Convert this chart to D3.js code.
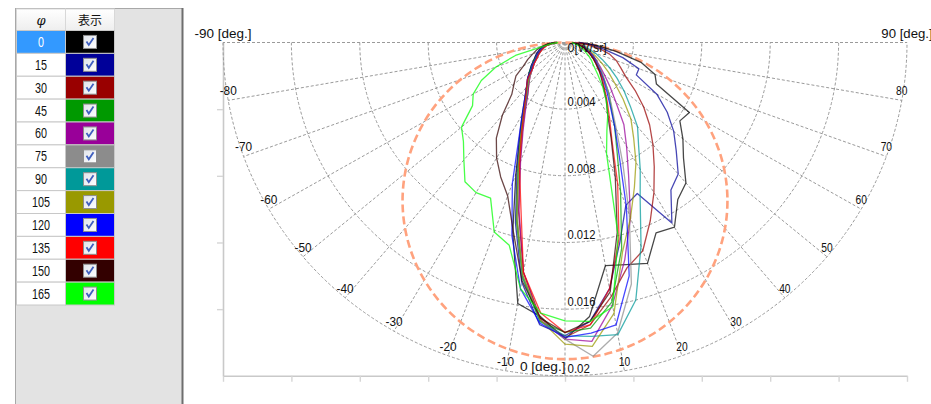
<!DOCTYPE html>
<html>
<head>
<meta charset="utf-8">
<script src="https://cdn.jsdelivr.net/npm/d3@7"></script>
<style>
  html, body { margin: 0; padding: 0; background: #fff; }
  svg { display: block; }
</style>
</head>
<body>
<svg id="chart" width="931" height="404"></svg>
<script>
// ---- data -------------------------------------------------------------
// polar angle of each sample [deg]
const thetaDeg = [-90,-85,-80,-75,-70,-65,-60,-55,-50,-45,-40,-35,-30,-25,-20,-15,-10,-5,
                  0,5,10,15,20,25,30,35,40,45,50,55,60,65,70,75,80,85,90];

// azimuth of each measured plane [deg]
const phiLabels = ["0","15","30","45","60","75","90","105","120","135","150","165"];
const phiColors = ["#000000","#000099","#990000","#009900","#990099","#8c8c8c",
                   "#009999","#999900","#0000ff","#ff0000","#330000","#00ff00"];

// radiant intensity [W/sr] per plane, one value per thetaDeg entry
const intensityPhi0   = [0.0006,0.0010,0.0013,0.0015,0.0017,0.0019,0.0021,0.0024,0.0027,0.0031,0.0035,0.0041,0.0050,0.0063,0.0084,0.0118,0.0159,0.0165,
                         0.0178,
                         0.0165,0.0136,0.0138,0.0141,0.0126,0.0128,0.0115,0.0110,0.0098,0.0090,0.0082,0.0084,0.0059,0.0056,0.0046,0.0030,0.0018,0.0008];
const intensityPhi15  = [0.0005,0.0009,0.0012,0.0015,0.0017,0.0019,0.0021,0.0024,0.0027,0.0031,0.0034,0.0040,0.0049,0.0062,0.0082,0.0112,0.0146,0.0170,
                         0.0176,
                         0.0168,0.0150,0.0124,0.0104,0.0100,0.0125,0.0108,0.0103,0.0092,0.0083,0.0073,0.0062,0.0046,0.0046,0.0035,0.0023,0.0016,0.0008];
const intensityPhi30  = [0.0005,0.0008,0.0011,0.0013,0.0015,0.0017,0.0019,0.0022,0.0025,0.0029,0.0033,0.0038,0.0047,0.0059,0.0077,0.0105,0.0140,0.0166,
                         0.0177,
                         0.0170,0.0155,0.0140,0.0133,0.0118,0.0104,0.0091,0.0080,0.0070,0.0060,0.0050,0.0041,0.0036,0.0032,0.0027,0.0020,0.0013,0.0006];
const intensityPhi45  = [0.0005,0.0009,0.0012,0.0014,0.0016,0.0018,0.0021,0.0023,0.0027,0.0030,0.0035,0.0040,0.0049,0.0061,0.0080,0.0110,0.0143,0.0168,
                         0.0174,
                         0.0172,0.0158,0.0128,0.0095,0.0072,0.0058,0.0047,0.0040,0.0033,0.0028,0.0024,0.0021,0.0018,0.0015,0.0012,0.0010,0.0007,0.0005];
const intensityPhi60  = [0.0005,0.0009,0.0012,0.0014,0.0016,0.0018,0.0020,0.0022,0.0025,0.0029,0.0033,0.0038,0.0046,0.0058,0.0076,0.0104,0.0140,0.0167,
                         0.0178,
                         0.0180,0.0160,0.0135,0.0112,0.0088,0.0072,0.0060,0.0046,0.0037,0.0030,0.0025,0.0021,0.0018,0.0015,0.0012,0.0009,0.0007,0.0005];
const intensityPhi75  = [0.0005,0.0008,0.0011,0.0013,0.0015,0.0017,0.0019,0.0022,0.0025,0.0029,0.0034,0.0039,0.0048,0.0060,0.0079,0.0108,0.0142,0.0167,
                         0.0178,
                         0.0189,0.0177,0.0150,0.0110,0.0080,0.0060,0.0048,0.0040,0.0033,0.0028,0.0024,0.0020,0.0017,0.0014,0.0012,0.0009,0.0007,0.0005];
const intensityPhi90  = [0.0005,0.0009,0.0012,0.0014,0.0016,0.0018,0.0020,0.0023,0.0026,0.0030,0.0034,0.0039,0.0048,0.0061,0.0080,0.0109,0.0143,0.0168,
                         0.0176,
                         0.0177,0.0178,0.0160,0.0130,0.0104,0.0088,0.0075,0.0066,0.0054,0.0045,0.0037,0.0030,0.0024,0.0019,0.0014,0.0010,0.0007,0.0005];
const intensityPhi105 = [0.0005,0.0009,0.0012,0.0014,0.0016,0.0018,0.0020,0.0023,0.0026,0.0030,0.0034,0.0040,0.0049,0.0061,0.0080,0.0109,0.0142,0.0167,
                         0.0181,
                         0.0183,0.0165,0.0130,0.0112,0.0096,0.0083,0.0070,0.0060,0.0048,0.0038,0.0031,0.0025,0.0020,0.0016,0.0013,0.0010,0.0007,0.0005];
const intensityPhi120 = [0.0005,0.0009,0.0012,0.0014,0.0016,0.0018,0.0020,0.0023,0.0026,0.0031,0.0035,0.0041,0.0050,0.0064,0.0090,0.0120,0.0150,0.0169,
                         0.0177,
                         0.0175,0.0172,0.0145,0.0105,0.0075,0.0058,0.0046,0.0038,0.0032,0.0027,0.0023,0.0020,0.0017,0.0014,0.0012,0.0009,0.0007,0.0005];
const intensityPhi135 = [0.0005,0.0008,0.0011,0.0013,0.0015,0.0017,0.0019,0.0022,0.0025,0.0031,0.0035,0.0040,0.0048,0.0060,0.0078,0.0100,0.0140,0.0163,
                         0.0174,
                         0.0170,0.0150,0.0122,0.0090,0.0065,0.0052,0.0043,0.0036,0.0031,0.0026,0.0022,0.0019,0.0016,0.0013,0.0011,0.0009,0.0007,0.0005];
const intensityPhi150 = [0.0006,0.0010,0.0014,0.0017,0.0020,0.0024,0.0028,0.0035,0.0039,0.0044,0.0057,0.0070,0.0080,0.0089,0.0098,0.0117,0.0145,0.0166,
                         0.0174,
                         0.0168,0.0152,0.0118,0.0086,0.0064,0.0050,0.0042,0.0035,0.0030,0.0026,0.0022,0.0019,0.0016,0.0013,0.0011,0.0008,0.0006,0.0004];
const intensityPhi165 = [0.0004,0.0008,0.0013,0.0030,0.0043,0.0054,0.0062,0.0066,0.0079,0.0084,0.0092,0.0102,0.0104,0.0103,0.0121,0.0126,0.0150,0.0163,
                         0.0167,
                         0.0168,0.0161,0.0120,0.0071,0.0058,0.0050,0.0042,0.0034,0.0027,0.0022,0.0019,0.0016,0.0013,0.0011,0.0009,0.0007,0.0005,0.0004];

// peak of the Lambertian reference distribution [W/sr]
const lambertPeak = 0.019;

// axis ticks
const radialTicks  = [0, 0.004, 0.008, 0.012, 0.016, 0.02];
const radialLabels = ["0[W/sr]", "0.004", "0.008", "0.012", "0.016", "0.02"];
const angleTicks   = [-90,-80,-70,-60,-50,-40,-30,-20,-10,0,10,20,30,40,50,60,70,80,90];
const angleLabels  = ["-90 [deg.]","-80","-70","-60","-50","-40","-30","-20","-10","0 [deg.]",
                      "10","20","30","40","50","60","70","80","90 [deg.]"];

const seriesValues = [intensityPhi0, intensityPhi15, intensityPhi30, intensityPhi45,
                      intensityPhi60, intensityPhi75, intensityPhi90, intensityPhi105,
                      intensityPhi120, intensityPhi135, intensityPhi150, intensityPhi165];

// ---- layout -----------------------------------------------------------
const svg = d3.select("#chart");
const cx = 565, cy = 42.5;
const rMax = 0.02;
const rx = d3.scaleLinear().domain([0, rMax]).range([0, 342]);     // horizontal radius
const ry = d3.scaleLinear().domain([0, rMax]).range([0, 333.3]);   // vertical radius
const rad = d => d * Math.PI / 180;
const polar = (deg, v) => [cx + rx(v) * Math.sin(rad(deg)), cy + ry(v) * Math.cos(rad(deg))];

const labelFont = "'Liberation Sans', Arial, sans-serif";

function condensedText(g, str, x, y, opts) {
  const o = Object.assign({ size: 12.5, cw: 5.7, anchor: "middle", fill: "#111" }, opts || {});
  return g.append("text")
    .attr("x", x).attr("y", y)
    .attr("font-family", labelFont)
    .attr("font-size", o.size)
    .attr("fill", o.fill)
    .attr("text-anchor", o.anchor)
    .attr("textLength", str.length * o.cw)
    .attr("lengthAdjust", "spacingAndGlyphs")
    .text(str);
}

// ---- left panel: plane selector table ---------------------------------
const panel = svg.append("g");
panel.append("rect").attr("x", 15).attr("y", 8).attr("width", 168).attr("height", 400).attr("fill", "#e3e3e3");
panel.append("line").attr("x1", 15.5).attr("x2", 15.5).attr("y1", 8).attr("y2", 404).attr("stroke", "#a8a8a8");
panel.append("line").attr("x1", 15).attr("x2", 183).attr("y1", 8.5).attr("y2", 8.5).attr("stroke", "#a8a8a8");
panel.append("rect").attr("x", 181.5).attr("y", 8).attr("width", 2).attr("height", 396).attr("fill", "#6e6e6e");

const defs = svg.append("defs");
const hg = defs.append("linearGradient").attr("id", "hdr").attr("x1", 0).attr("y1", 0).attr("x2", 0).attr("y2", 1);
hg.append("stop").attr("offset", "0%").attr("stop-color", "#ffffff");
hg.append("stop").attr("offset", "100%").attr("stop-color", "#eeeeee");
const cg = defs.append("linearGradient").attr("id", "chk").attr("x1", 0).attr("y1", 0).attr("x2", 1).attr("y2", 1);
cg.append("stop").attr("offset", "0%").attr("stop-color", "#dfe3ea");
cg.append("stop").attr("offset", "100%").attr("stop-color", "#ffffff");

const colX = [16.5, 65.5, 114.5];
const headTop = 9, rowTop = 30.5, rowH = 22.875;

[0, 1].forEach(i => {
  panel.append("rect").attr("x", colX[i]).attr("y", headTop)
    .attr("width", colX[i + 1] - colX[i]).attr("height", rowTop - headTop)
    .attr("fill", "url(#hdr)").attr("stroke", "#d8d8d8");
});
panel.append("text").attr("x", 41).attr("y", 24.5).attr("text-anchor", "middle")
  .attr("font-family", "'DejaVu Serif', serif").attr("font-style", "italic")
  .attr("font-size", 13).attr("fill", "#111").text("φ");
panel.append("text").attr("x", 90).attr("y", 24.5).attr("text-anchor", "middle")
  .attr("font-family", "'Noto Sans CJK JP', sans-serif")
  .attr("font-size", 12).attr("fill", "#111").text("表示");

phiLabels.forEach((lab, i) => {
  const y0 = rowTop + i * rowH;
  const yc = y0 + rowH / 2;
  const sel = i === 0;
  panel.append("rect").attr("x", colX[0]).attr("y", y0).attr("width", colX[1] - colX[0]).attr("height", rowH)
    .attr("fill", sel ? "#3399ff" : "#ffffff").attr("stroke", "#c8c8c8");
  panel.append("rect").attr("x", colX[1]).attr("y", y0).attr("width", colX[2] - colX[1]).attr("height", rowH)
    .attr("fill", phiColors[i]).attr("stroke", "#c8c8c8");
  condensedText(panel, lab, 41, yc + 5, { size: 14, cw: 6, fill: sel ? "#ffffff" : "#111" });
  // checkbox
  panel.append("rect").attr("x", 83.5).attr("y", yc - 6.5).attr("width", 13).attr("height", 13)
    .attr("fill", "url(#chk)").attr("stroke", "#8e8e8e");
  panel.append("path")
    .attr("d", `M${86.5},${yc - 0.5} L${88.8},${yc + 3} L${93.5},${yc - 4}`)
    .attr("fill", "none").attr("stroke", "#3f5fbf").attr("stroke-width", 1.8);
});

// ---- chart frame with axes --------------------------------------------
const xAxisScale = d3.scaleLinear().domain([-rMax, rMax]).range([cx - rx(rMax), cx + rx(rMax)]);
const yAxisScale = d3.scaleLinear().domain([0, rMax]).range([cy, cy + ry(rMax)]);
const frameBottom = cy + ry(rMax);
const frameLeft = cx - rx(rMax);

const xAxis = svg.append("g").attr("transform", `translate(0,${frameBottom})`)
  .call(d3.axisBottom(xAxisScale)
    .tickValues([-0.02,-0.016,-0.012,-0.008,-0.004,0,0.004,0.008,0.012,0.016,0.02])
    .tickFormat("").tickSizeInner(6).tickSizeOuter(0));
const yAxis = svg.append("g").attr("transform", `translate(${frameLeft},0)`)
  .call(d3.axisLeft(yAxisScale)
    .tickValues([0.004, 0.008, 0.012, 0.016])
    .tickFormat("").tickSizeInner(6).tickSizeOuter(0));
[xAxis, yAxis].forEach(a => {
  a.select(".domain").attr("stroke", "#c9c9c9").attr("stroke-width", 1.6);
  a.selectAll(".tick line").attr("stroke", "#d6d6d6").attr("stroke-width", 1.4);
});

// ---- polar grid ---------------------------------------------------------
const grid = svg.append("g").attr("fill", "none").attr("stroke", "#9a9a9a")
  .attr("stroke-width", 1).attr("stroke-dasharray", "3,2");

radialTicks.filter(v => v > 0).forEach(v => {
  grid.append("path")
    .attr("d", `M${cx - rx(v)},${cy} A${rx(v)},${ry(v)} 0 0 0 ${cx + rx(v)},${cy}`);
});
angleTicks.forEach(a => {
  const [x2, y2] = polar(a, rMax);
  grid.append("line").attr("x1", cx).attr("y1", cy).attr("x2", x2).attr("y2", y2);
});

// Lambertian reference: r = peak * cos(theta), an ellipse through the pole
svg.append("ellipse")
  .attr("cx", cx).attr("cy", cy + ry(lambertPeak) / 2)
  .attr("rx", rx(lambertPeak) / 2).attr("ry", ry(lambertPeak) / 2)
  .attr("fill", "none").attr("stroke", "#ffa27e").attr("stroke-width", 2.6)
  .attr("stroke-dasharray", "8,4");

// ---- measured distributions ------------------------------------------
const line = d3.line();
const curves = svg.append("g").attr("fill", "none");
seriesValues.forEach((vals, i) => {
  const pts = thetaDeg.map((t, k) => polar(t, vals[k]));
  curves.append("path")
    .attr("d", line(pts))
    .attr("stroke", phiColors[i])
    .attr("stroke-opacity", 0.72)
    .attr("stroke-width", 1.3)
    .attr("stroke-linejoin", "round");
});

// ---- labels -------------------------------------------------------------
const labels = svg.append("g");
angleTicks.forEach((a, i) => {
  const [x, y] = polar(a, rMax);
  if (a === 0) {
    // the 0° label sits just left of the outer radial value label
    condensedText(labels, angleLabels[i], cx + 0.5, y - 5, { anchor: "end" });
  } else {
    condensedText(labels, angleLabels[i], x, y - 5);
  }
});
radialTicks.forEach((v, i) => {
  const y = v === 0 ? cy + 9.5 : yAxisScale(v) - 3;
  condensedText(labels, radialLabels[i], cx + 2.5, y, { anchor: "start", cw: 5.6 });
});
</script>
</body>
</html>
